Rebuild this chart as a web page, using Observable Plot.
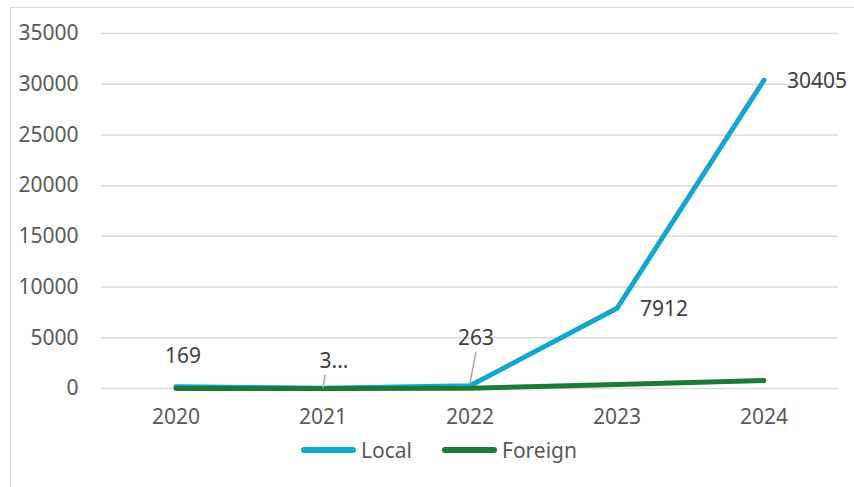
<!DOCTYPE html>
<html>
<head>
<meta charset="utf-8">
<script src="https://cdn.jsdelivr.net/npm/d3@7"></script>
<script src="https://cdn.jsdelivr.net/npm/@observablehq/plot@0.6"></script>
<style>
  html, body { margin: 0; padding: 0; background: #fff; }
  #wrap { position: relative; width: 854px; height: 487px; overflow: hidden; font-family: "Noto Sans", sans-serif; }
  #frame { position: absolute; left: 10px; top: 7px; width: 900px; height: 600px; border-left: 1.5px solid #d9d9d9; border-top: 1.5px solid #d9d9d9; }
  #chart { position: absolute; left: 0; top: 0; }
  #legend { position: absolute; left: 0; top: 436px; width: 854px; display: flex; justify-content: center; gap: 30px; font-size: 21px; color: #595959; padding-left: 24px; box-sizing: border-box; }
  .item { display: flex; align-items: center; gap: 5px; }
  .sw { width: 55px; height: 6px; border-radius: 3px; }
</style>
</head>
<body>
<div id="wrap">
  <div id="frame"></div>
  <div id="chart"></div>
  <div id="legend"></div>
</div>
<script>
const years = ["2020", "2021", "2022", "2023", "2024"];
const localValues = [169, 35, 263, 7912, 30405];
const foreignValues = [10, 5, 30, 400, 790];
const localLabels = ["169", "3...", "263", "7912", "30405"];
const yTicks = [0, 5000, 10000, 15000, 20000, 25000, 30000, 35000];
const seriesNames = ["Local", "Foreign"];
const seriesColors = ["#15a6cf", "#1d7a36"];

const local = years.map((y, i) => ({year: y, value: localValues[i], label: localLabels[i]}));
const foreign = years.map((y, i) => ({year: y, value: foreignValues[i]}));

const textColor = "#595959";
const fontSize = 21;

const above = (d) => d.year === "2020";
const right = (d) => d.year === "2023" || d.year === "2024";

const leaderShape = {
  draw(context, l) { context.moveTo(0, 0); context.lineTo(0, -l); }
};

const chart = Plot.plot({
  width: 854,
  height: 430,
  marginLeft: 101,
  marginRight: 16,
  marginTop: 33,
  marginBottom: 42,
  style: {fontFamily: "'Noto Sans', sans-serif", fontSize: fontSize + "px", color: textColor, background: "transparent", overflow: "visible"},
  x: {type: "band", domain: years, padding: 0, label: null},
  y: {domain: [0, 35000], label: null, ticks: yTicks},
  marks: [
    Plot.ruleY(yTicks, {stroke: "#d9d9d9", strokeWidth: 1.5}),
    Plot.axisY(yTicks, {tickSize: 0, tickPadding: 23, fill: textColor, fontSize: fontSize, label: null, tickFormat: d => String(d)}),
    Plot.axisX({tickSize: 0, tickPadding: 21, fill: textColor, fontSize: fontSize, label: null}),
    Plot.line(local, {x: "year", y: "value", stroke: seriesColors[0], strokeWidth: 5, strokeLinecap: "round", strokeLinejoin: "round"}),
    Plot.line(foreign, {x: "year", y: "value", stroke: seriesColors[1], strokeWidth: 5, strokeLinecap: "round", strokeLinejoin: "round"}),
    Plot.vector(local.filter(d => d.year === "2021"), {x: "year", y: "value", length: 12, rotate: 10, anchor: "start", shape: leaderShape, stroke: "#a6a6a6", strokeWidth: 1.5, dy: -1}),
    Plot.vector(local.filter(d => d.year === "2022"), {x: "year", y: "value", length: 31, rotate: 11, anchor: "start", shape: leaderShape, stroke: "#a6a6a6", strokeWidth: 1.5, dy: -3}),
    Plot.text(local.filter(above), {x: "year", y: "value", text: "label", dx: 7, dy: -31, fill: "#404040", fontSize: fontSize}),
    Plot.text(local.filter(d => d.year === "2021"), {x: "year", y: "value", text: "label", dx: 11, dy: -27, fill: "#404040", fontSize: fontSize}),
    Plot.text(local.filter(d => d.year === "2022"), {x: "year", y: "value", text: "label", dx: 6, dy: -48, fill: "#404040", fontSize: fontSize}),
    Plot.text(local.filter(right), {x: "year", y: "value", text: "label", dx: 23, dy: 1, textAnchor: "start", fill: "#404040", fontSize: fontSize})
  ]
});
document.getElementById("chart").appendChild(chart);

const legend = document.getElementById("legend");
seriesNames.forEach((name, i) => {
  const item = document.createElement("div");
  item.className = "item";
  const sw = document.createElement("div");
  sw.className = "sw";
  sw.style.background = seriesColors[i];
  const t = document.createElement("span");
  t.textContent = name;
  item.appendChild(sw);
  item.appendChild(t);
  legend.appendChild(item);
});
</script>
</body>
</html>
